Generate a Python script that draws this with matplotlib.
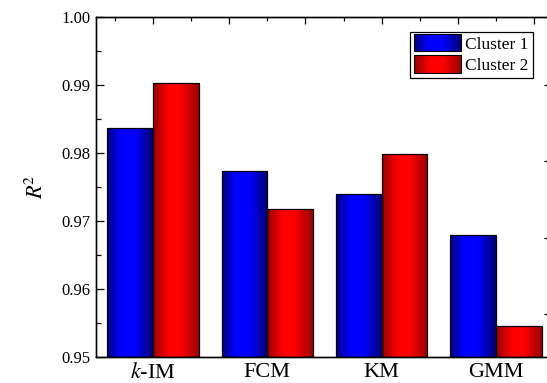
import numpy as np
import matplotlib.pyplot as plt
from matplotlib.colors import LinearSegmentedColormap
from matplotlib.patches import Rectangle
from matplotlib.legend_handler import HandlerBase

plt.rcParams['font.family'] = ['Liberation Serif', 'DejaVu Serif']
plt.rcParams['mathtext.fontset'] = 'stix'

methods = ['$k$-IM', 'FCM', 'KM', 'GMM']
cluster1 = [0.9837, 0.9774, 0.9739, 0.9679]
cluster2 = [0.9903, 0.9717, 0.9799, 0.9545]
series_names = ['Cluster 1', 'Cluster 2']
ytick_vals = [0.95, 0.96, 0.97, 0.98, 0.99, 1.00]

blue_cmap = LinearSegmentedColormap.from_list(
    'bg', [(0, (0, 0, 0.5)), (0.3, (0, 0, 1)), (0.6, (0, 0, 1)), (1, (0, 0, 0.45))])
red_cmap = LinearSegmentedColormap.from_list(
    'rg', [(0, (0.6, 0, 0)), (0.35, (1, 0, 0)), (0.6, (1, 0, 0)), (1, (0.6, 0, 0))])
grad = np.linspace(0, 1, 256).reshape(1, -1)


class GradHandler(HandlerBase):
    def __init__(self, cmap):
        super().__init__()
        self.cmap = cmap

    def create_artists(self, legend, orig_handle, xdescent, ydescent,
                       width, height, fontsize, trans):
        arts = []
        n = 40
        x0, y0 = -xdescent, -ydescent - 2
        h = height + 4
        for i in range(n):
            r = Rectangle((x0 + width * i / n, y0), width / n + 0.3, h,
                          facecolor=self.cmap((i + 0.5) / n), edgecolor='none',
                          transform=trans)
            arts.append(r)
        arts.append(Rectangle((x0, y0), width, h, facecolor='none',
                              edgecolor='black', lw=0.8, transform=trans))
        return arts


fig = plt.figure(figsize=(5.47, 3.83), dpi=100)
ax = fig.add_axes([0.1755, 0.068, 0.827, 0.888])

x = np.arange(len(methods))
w = 0.4
ymin = 0.95
bars1 = ax.bar(x - w / 2, np.array(cluster1) - ymin, w, bottom=ymin,
               facecolor='none', edgecolor='black', lw=0.9, zorder=3)
bars2 = ax.bar(x + w / 2, np.array(cluster2) - ymin, w, bottom=ymin,
               facecolor='none', edgecolor='black', lw=0.9, zorder=3)

for bars, cmap in [(bars1, blue_cmap), (bars2, red_cmap)]:
    for b in bars:
        bx, by = b.get_x(), b.get_y()
        bw, bh = b.get_width(), b.get_height()
        im = ax.imshow(grad, cmap=cmap, aspect='auto',
                       extent=[bx, bx + bw, by, by + bh], zorder=2)
        im.set_clip_path(b)

ax.set_xlim(-0.5, 3.46)
ax.set_ylim(0.95, 1.0)
ax.set_xticks(x)
ax.set_xticklabels(methods, fontsize=16, family='Liberation Serif')
ax.tick_params(axis='x', length=0, pad=4)
ax.set_yticks(ytick_vals)
ax.set_yticklabels([f'{v:.2f}' for v in ytick_vals], fontsize=12,
                   family='Liberation Serif')
ax.set_yticks(np.arange(0.955, 1.0, 0.01), minor=True)
ax.tick_params(axis='y', which='major', direction='in', length=6, width=0.9, pad=4)
ax.tick_params(axis='y', which='minor', direction='in', length=3.5, width=0.9)
ax.set_ylabel(r'$R^{\!2}$', fontsize=16, labelpad=10)

# top axis ticks
axt = ax.twiny()
axt.set_xlim(ax.get_xlim())
axt.set_xticks([0, 2 / 3, 4 / 3, 2, 8 / 3, 10 / 3])
axt.set_xticks([-1 / 3, 1 / 3, 1, 5 / 3, 7 / 3, 3], minor=True)
axt.set_xticklabels([])
axt.tick_params(axis='x', which='major', direction='in', length=5, width=0.9)
axt.tick_params(axis='x', which='minor', direction='in', length=3, width=0.9)

# right axis ticks
axr = ax.twinx()
axr.set_ylim(ax.get_ylim())
axr.set_yticks([0.99, 0.97875, 0.9675, 0.95625])
axr.set_yticklabels([])
axr.tick_params(axis='y', direction='in', length=3, width=0.9)

for a in (ax, axt, axr):
    for s in a.spines.values():
        s.set_linewidth(0.9)

leg = axr.legend([bars1, bars2], series_names, loc='upper right',
                 bbox_to_anchor=(0.965, 0.955),
                 handler_map={bars1: GradHandler(blue_cmap), bars2: GradHandler(red_cmap)},
                 fancybox=False, framealpha=1, edgecolor='black',
                 handlelength=2.7, handletextpad=0.2, labelspacing=0.3,
                 borderpad=0.25, borderaxespad=0,
                 prop={'family': 'Liberation Serif', 'size': 12.5})
leg.get_frame().set_linewidth(0.9)

plt.savefig('out.png', dpi=100)
